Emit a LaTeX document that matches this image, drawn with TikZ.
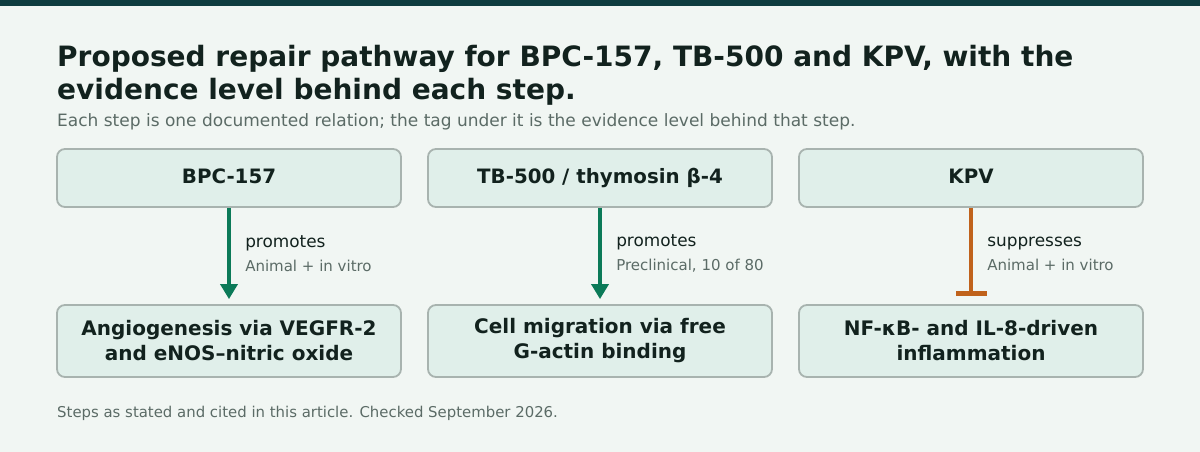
\documentclass[tikz,border=0pt]{standalone}
\usepackage{fontspec}
\setmainfont{DejaVu Sans}
\usetikzlibrary{arrows.meta,positioning}
\definecolor{bgc}{HTML}{F1F6F3}
\definecolor{barc}{HTML}{0F3D40}
\definecolor{boxc}{HTML}{E0EFEA}
\definecolor{linec}{HTML}{A8B3AF}
\definecolor{inkc}{HTML}{12221E}
\definecolor{subc}{HTML}{5B6B66}
\definecolor{promc}{HTML}{0B7A58}
\definecolor{suppc}{HTML}{C0621B}
\newcommand\levelfont{\color{subc}\fontsize{15}{18}\selectfont}
\begin{document}
\begin{tikzpicture}[x=1pt,y=-1pt,
  box/.style={draw=linec, line width=1.8pt, fill=boxc, rounded corners=8pt,
    minimum width=344pt, text=inkc, align=center},
  agent/.style={box, minimum height=58pt, text height=15pt, text depth=4.5pt,
    font=\fontsize{19.8}{24}\selectfont\bfseries},
  target/.style={box, minimum height=72pt, font=\fontsize{20}{25}\selectfont\bfseries},
  promote/.style={draw=promc, line width=3.5pt, -{Triangle[width=17pt,length=15pt]}, shorten >=5pt},
  suppress/.style={draw=suppc, line width=3.5pt, -{Bar[width=31pt,line width=5pt]}, shorten >=8.5pt},
  tag/.style={anchor=west, xshift=14.5pt, yshift=2.5pt, inner sep=0pt, align=left, text=inkc,
    font=\fontsize{16.9}{24}\selectfont}]
\useasboundingbox (0,0) rectangle (1200,452);
\fill[bgc] (0,0) rectangle (1200,452);
\fill[barc] (0,0) rectangle (1200,6);
\node (title) [anchor=north west, inner sep=0pt, align=left, text=inkc,
  font=\fontsize{28}{33}\selectfont\bfseries] at (57,45)
  {Proposed repair pathway for BPC-157, TB-500 and KPV, with the\\evidence level behind each step.};
\node (subtitle) [anchor=base west, inner sep=0pt, text=subc, font=\fontsize{17}{20}\selectfont] at (57,126)
  {Each step is one documented relation; the tag under it is the evidence level behind that step.};
\node (bpc) [agent] at (229,178) {BPC-157};
\node (tb) [agent] at (600,178) {TB-500 / thymosin β-4};
\node (kpv) [agent] at (971,178) {KPV};
\node (angio) [target] at (229,341) {Angiogenesis via VEGFR-2\\and eNOS–nitric oxide};
\node (migr) [target] at (600,341) {Cell migration via free\\G-actin binding};
\node (infl) [target] at (971,341) {NF-κB- and IL-8-driven\\inflammation};
\path
  (bpc) edge [promote] node (t1) [tag] {promotes\\{\levelfont Animal + in vitro}} (angio)
  (tb) edge [promote] node (t2) [tag] {promotes\\{\levelfont Preclinical, 10 of 80}} (migr)
  (kpv) edge [suppress] node (t3) [tag] {suppresses\\{\levelfont Animal + in vitro}} (infl);
\node (footer) [anchor=base west, inner sep=0pt, text=subc, font=\fontsize{14.9}{18}\selectfont] at (57,417)
  {Steps as stated and cited in this article. Checked September 2026.};
\end{tikzpicture}
\end{document}
